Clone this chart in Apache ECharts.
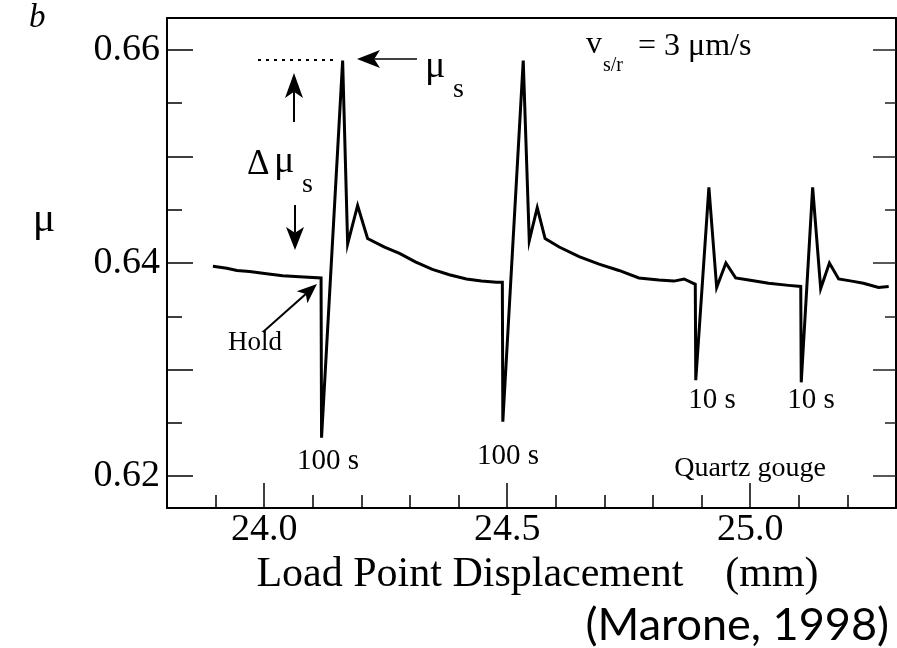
<!DOCTYPE html>
<html><head><meta charset="utf-8">
<script src="https://cdn.jsdelivr.net/npm/echarts@6/dist/echarts.min.js"></script>
<style>html,body{margin:0;padding:0;background:#fff}#c{width:897px;height:648px}</style>
</head><body><div id="c"></div>
<script>
// Load point displacement (mm)
const displacement = [
  23.8945, 23.923, 23.944, 23.970, 24.005, 24.038, 24.073, 24.117, 24.118,
  24.1614, 24.1717, 24.1922, 24.2127, 24.2476, 24.2784, 24.311, 24.346, 24.381,
  24.416, 24.447, 24.478, 24.490, 24.491,
  24.533, 24.5454, 24.5618, 24.578, 24.607, 24.648, 24.689, 24.730, 24.771,
  24.812, 24.843, 24.864, 24.887, 24.888,
  24.915, 24.931, 24.950, 24.970, 24.997, 25.038, 25.079, 25.104, 25.105,
  25.1285, 25.145, 25.163, 25.182, 25.209, 25.233, 25.264, 25.285
];
// Friction coefficient mu
const friction = [
  0.6397, 0.6395, 0.6393, 0.6392, 0.6390, 0.6388, 0.6387, 0.6386, 0.6236,
  0.6590, 0.6418, 0.6454, 0.6423, 0.6415, 0.6409, 0.6401, 0.6394, 0.6389,
  0.6385, 0.6383, 0.6382, 0.6382, 0.6251,
  0.6590, 0.6421, 0.6452, 0.6423, 0.6415, 0.6406, 0.6399, 0.6393, 0.6386,
  0.6384, 0.6383, 0.6385, 0.6380, 0.6290,
  0.6471, 0.6377, 0.6400, 0.6386, 0.6384, 0.6381, 0.6379, 0.6378, 0.6288,
  0.6471, 0.6376, 0.6400, 0.6385, 0.6383, 0.6381, 0.6377, 0.6378
];
const xMinorTicks = [23.9, 24.0, 24.1, 24.2, 24.3, 24.4, 24.5, 24.6, 24.7, 24.8, 24.9, 25.0, 25.1, 25.2];
const xMajorTicks = [24.0, 24.5, 25.0];
const xTickLabels = [24.0, 24.5, 25.0];
const yMinorTicks = [0.62, 0.625, 0.63, 0.635, 0.64, 0.645, 0.65, 0.655, 0.66];
const yMajorTicks = [0.62, 0.63, 0.64, 0.65, 0.66];
const yTickLabels = [0.62, 0.64, 0.66];

const SERIF = '"Liberation Serif", "DejaVu Serif", serif';
const seriesData = displacement.map((x, i) => [x, friction[i]]);

function txt(x, y, text, size, opts) {
  opts = opts || {};
  return {
    type: 'text', x: x, y: y, silent: true,
    style: {
      text: text,
      font: (opts.style || '') + ' ' + size + 'px ' + (opts.family || SERIF),
      fill: '#000',
      align: opts.align || 'left',
      verticalAlign: opts.va || 'top'
    }
  };
}
function arrow(x1, y1, x2, y2, hl, hw, lw) {
  const dx = x2 - x1, dy = y2 - y1, L = Math.sqrt(dx * dx + dy * dy);
  const ux = dx / L, uy = dy / L, px = -uy, py = ux;
  const bx = x2 - ux * hl, by = y2 - uy * hl;
  const nx = x2 - ux * hl * 0.75, ny = y2 - uy * hl * 0.75;
  return [
    { type: 'line', silent: true, shape: { x1: x1, y1: y1, x2: nx, y2: ny }, style: { stroke: '#000', lineWidth: lw || 2 } },
    { type: 'polygon', silent: true, shape: { points: [[x2, y2], [bx + px * hw, by + py * hw], [nx, ny], [bx - px * hw, by - py * hw]] }, style: { fill: '#000' } }
  ];
}

const chart = echarts.init(document.getElementById('c'), null, { renderer: 'canvas' });
const axisLineStyle = { color: '#000', width: 2 };
const option = {
  animation: false,
  backgroundColor: '#fff',
  grid: { left: 167, right: 1, top: 18, bottom: 140, containLabel: false, outerBoundsMode: 'none' },
  xAxis: [
    {
      type: 'value', min: 23.8, max: 25.3, position: 'bottom',
      axisLine: { show: true, lineStyle: axisLineStyle },
      axisTick: { show: true, inside: true, length: 13, customValues: xMinorTicks, lineStyle: { color: '#000', width: 1.5 } },
      axisLabel: { show: true, customValues: xTickLabels, formatter: v => v.toFixed(1), fontFamily: SERIF, fontSize: 38, color: '#000', margin: 3 },
      splitLine: { show: false },
      name: 'Load Point Displacement    (mm)', nameLocation: 'middle', nameGap: 38,
      nameTextStyle: { fontFamily: SERIF, fontSize: 42, color: '#000', padding: [0, 0, 0, 12] }
    },
    {
      type: 'value', min: 23.8, max: 25.3, position: 'bottom',
      axisLine: { show: false },
      axisTick: { show: true, inside: true, length: 25, customValues: xMajorTicks, lineStyle: { color: '#000', width: 1.5 } },
      axisLabel: { show: false }, splitLine: { show: false }
    },
    {
      type: 'value', min: 23.8, max: 25.3, position: 'top',
      axisLine: { show: true, lineStyle: axisLineStyle },
      axisTick: { show: false }, axisLabel: { show: false }, splitLine: { show: false }
    }
  ],
  yAxis: [
    {
      type: 'value', min: 0.617, max: 0.663, position: 'left',
      axisLine: { show: true, lineStyle: axisLineStyle },
      axisTick: { show: true, inside: true, length: 15, customValues: yMinorTicks, lineStyle: { color: '#000', width: 1.5 } },
      axisLabel: { show: true, customValues: yTickLabels, formatter: v => v.toFixed(2), fontFamily: SERIF, fontSize: 38, color: '#000', margin: 7 },
      splitLine: { show: false }
    },
    {
      type: 'value', min: 0.617, max: 0.663, position: 'left',
      axisLine: { show: false },
      axisTick: { show: true, inside: true, length: 26, customValues: yMajorTicks, lineStyle: { color: '#000', width: 1.5 } },
      axisLabel: { show: false }, splitLine: { show: false }
    },
    {
      type: 'value', min: 0.617, max: 0.663, position: 'right',
      axisLine: { show: true, lineStyle: axisLineStyle },
      axisTick: { show: true, inside: true, length: 11, customValues: yMinorTicks, lineStyle: { color: '#222', width: 1.5 } },
      axisLabel: { show: false }, splitLine: { show: false }
    },
    {
      type: 'value', min: 0.617, max: 0.663, position: 'right',
      axisLine: { show: false },
      axisTick: { show: true, inside: true, length: 23, customValues: yMajorTicks, lineStyle: { color: '#222', width: 1.5 } },
      axisLabel: { show: false }, splitLine: { show: false }
    }
  ],
  series: [{
    type: 'line', xAxisIndex: 0, yAxisIndex: 0,
    data: seriesData, showSymbol: false, symbol: 'none',
    lineStyle: { color: '#000', width: 3, join: 'miter' }
  }],
  graphic: { elements: [] }
};
chart.setOption(option);

const g = [];
g.push(txt(29, 2, 'b', 33, { style: 'italic' }));
g.push(txt(44, 220, 'μ', 42, { align: 'center', va: 'middle' }));
// mu_s
g.push(txt(425, 48, 'μ', 38));
g.push(txt(453, 76, 's', 28));
g.push({ type: 'line', silent: true, shape: { x1: 258, y1: 60, x2: 334, y2: 60 }, style: { stroke: '#000', lineWidth: 2, lineDash: [3, 5] } });
arrow(417, 59, 357, 59, 23, 9, 1.5).forEach(e => g.push(e));
// delta mu_s
g.push(txt(247, 147, 'Δ', 35));
g.push(txt(274, 143, 'μ', 38));
g.push(txt(302, 171, 's', 28));
arrow(294, 122, 294, 73, 25, 9, 2).forEach(e => g.push(e));
arrow(295, 205, 295, 250, 23, 9, 2).forEach(e => g.push(e));
// Hold
g.push(txt(255, 343, 'Hold', 27, { align: 'center', va: 'middle' }));
arrow(263, 332, 317, 284, 20, 8, 2).forEach(e => g.push(e));
// hold labels
g.push(txt(328, 461, '100 s', 29, { align: 'center', va: 'middle' }));
g.push(txt(508, 456, '100 s', 29, { align: 'center', va: 'middle' }));
g.push(txt(712, 400, '10 s', 29, { align: 'center', va: 'middle' }));
g.push(txt(811, 400, '10 s', 29, { align: 'center', va: 'middle' }));
g.push(txt(750, 469, 'Quartz gouge', 28, { align: 'center', va: 'middle' }));
// velocity
g.push(txt(586, 29, 'v', 32));
g.push(txt(603, 56, 's/r', 20));
g.push(txt(638, 31, '= 3 μm/s', 32));
// citation
g.push(txt(889, 625, '(Marone, 1998)', 45, { align: 'right', va: 'middle', family: 'Lato, "Open Sans", sans-serif' }));

chart.setOption({ graphic: { elements: g } });
</script>
</body></html>
